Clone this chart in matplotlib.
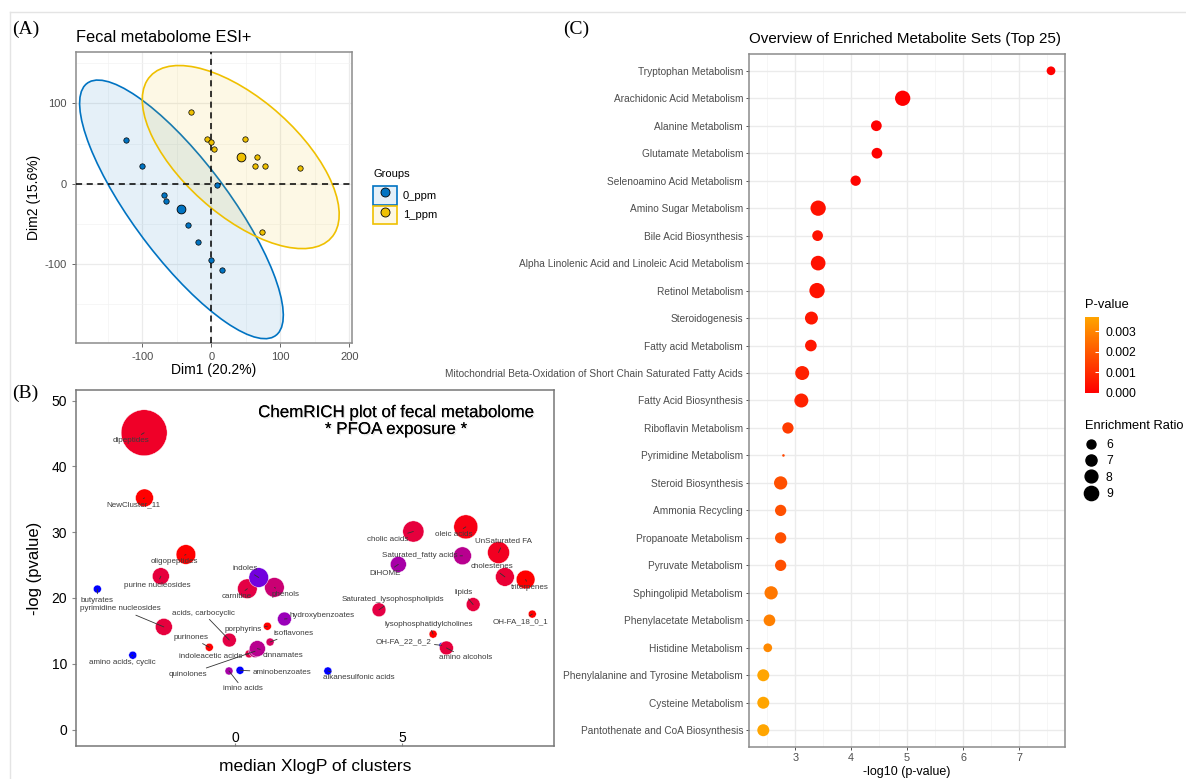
import numpy as np
import matplotlib
matplotlib.use("Agg")
import matplotlib.pyplot as plt
import matplotlib.patheffects as pe
from matplotlib.patches import Ellipse, Patch
from matplotlib.lines import Line2D
from matplotlib.colors import LinearSegmentedColormap, Normalize, to_rgba
from matplotlib.cm import ScalarMappable

plt.rcParams["font.family"] = ["Liberation Sans", "DejaVu Sans"]
plt.rcParams["axes.unicode_minus"] = False

# ---------------- data: (A) PCA scores ----------------
groups = ["0_ppm", "1_ppm"]
dim1_0ppm = [-124, -101, -68, -66, -33, -19, -1, 15.5, 8]
dim2_0ppm = [54, 22, -14, -21, -51, -72, -95, -107, -2]
dim1_1ppm = [-29, -6, -0.5, 4, 49, 66, 64, 78, 129, 73]
dim2_1ppm = [89, 56, 52, 43, 56, 33, 22, 22, 20, -60]

# ---------------- data: (B) ChemRICH clusters ----------------
cluster_names = [
    "dipeptides", "NewCluster_11", "oligopeptides", "purine nucleosides", "butyrates",
    "pyrimidine nucleosides", "amino acids, cyclic", "purinones", "acids, carbocyclic",
    "carnitine", "phenols", "indoles", "porphyrins", "hydroxybenzoates", "isoflavones",
    "indoleacetic acids", "quinolones", "cinnamates", "imino acids", "aminobenzoates",
    "alkanesulfonic acids", "cholic acids", "oleic acids", "UnSaturated FA",
    "Saturated_fatty acids", "DiHOME", "cholestenes", "triterpenes", "lipids",
    "Saturated_lysophospholipids", "OH-FA_18_0_1", "lysophosphatidylcholines",
    "OH-FA_22_6_2", "amino alcohols",
]
cluster_xlogp = [-2.72, -2.71, -1.47, -2.22, -4.12, -2.13, -3.06, -0.77, -0.17,
                 0.37, 1.18, 0.71, 0.97, 1.48, 1.05, 0.42, 0.60, 0.67, -0.18, 0.15,
                 2.78, 5.34, 6.91, 7.89, 6.81, 4.89, 8.08, 8.70, 7.13, 4.31, 8.90,
                 5.93, 6.19, 6.33]
cluster_neglogp = [45.1, 35.2, 26.6, 23.3, 21.35, 15.6, 11.3, 12.5, 13.6,
                   21.4, 21.6, 23.1, 15.7, 16.8, 13.3, 11.5, 11.9, 12.3, 8.9, 9.0,
                   8.9, 30.1, 30.8, 26.9, 26.4, 25.1, 23.2, 22.8, 19.0, 18.2, 17.55,
                   14.5, 12.8, 12.4]
cluster_size = [66, 10, 12, 9, 2, 9, 2, 2, 6,
                12, 12, 12, 2, 6, 2, 2, 5, 8, 2, 2,
                2, 14, 18, 15, 10, 8, 11, 11, 6, 6, 2,
                2, 1, 6]
increased_ratio = [0.88, 1.0, 1.0, 0.82, 0.0, 0.82, 0.0, 1.0, 0.8,
                   0.8, 0.62, 0.22, 1.0, 0.36, 0.7, 0.8, 0.55, 0.5, 0.42, 0.0,
                   0.0, 0.82, 0.94, 0.9, 0.5, 0.42, 0.84, 1.0, 0.82, 0.8, 1.0,
                   1.0, 0.0, 0.82]
# label offsets from bubble centre (pixels, y downwards) - layout only
label_offsets = [(-13, 8), (-11, 7), (-12, 7), (-4, 9), (0, 11), (-43, -18), (-10, 7),
                 (-18, -10), (-26, -27), (-11, 8), (11, 7), (-14, -9), (-24, 3), (38, -3),
                 (23, -9), (-38, 3), (-67, 23), (26, 7), (14, 18), (42, 2), (31, 7),
                 (-26, 8), (-12, 8), (5, -11), (-43, 0), (-13, 9), (-13, -10), (4, 8),
                 (-10, -12), (14, -10), (-12, 8), (-4, -10), (-38, -4), (19, 10)]

# ---------------- data: (C) enrichment overview ----------------
pathways = [
    "Tryptophan Metabolism", "Arachidonic Acid Metabolism", "Alanine Metabolism",
    "Glutamate Metabolism", "Selenoamino Acid Metabolism", "Amino Sugar Metabolism",
    "Bile Acid Biosynthesis", "Alpha Linolenic Acid and Linoleic Acid Metabolism",
    "Retinol Metabolism", "Steroidogenesis", "Fatty acid Metabolism",
    "Mitochondrial Beta-Oxidation of Short Chain Saturated Fatty Acids",
    "Fatty Acid Biosynthesis", "Riboflavin Metabolism", "Pyrimidine Metabolism",
    "Steroid Biosynthesis", "Ammonia Recycling", "Propanoate Metabolism",
    "Pyruvate Metabolism", "Sphingolipid Metabolism", "Phenylacetate Metabolism",
    "Histidine Metabolism", "Phenylalanine and Tyrosine Metabolism",
    "Cysteine Metabolism", "Pantothenate and CoA Biosynthesis",
]
neg_log10_p = [7.57, 4.92, 4.45, 4.46, 4.08, 3.41, 3.40, 3.41, 3.39, 3.29, 3.28, 3.125,
               3.11, 2.87, 2.79, 2.74, 2.74, 2.74, 2.74, 2.57, 2.54, 2.51, 2.43, 2.43, 2.43]
enrichment_ratio = [5.9, 9.8, 6.8, 6.8, 6.6, 9.8, 6.8, 9.3, 9.8, 8.1, 7.3, 8.8,
                    8.8, 7.1, 4.7, 8.3, 7.1, 7.1, 7.1, 8.3, 7.3, 5.9, 7.5, 7.5, 7.5]
ratio_breaks = [6, 7, 8, 9]
pvalue_breaks = [0.000, 0.001, 0.002, 0.003]

W, H = 1186, 779
fig = plt.figure(figsize=(W / 100, H / 100), dpi=100)


def box(x0, y0, x1, y1):
    return [x0 / W, 1 - y1 / H, (x1 - x0) / W, (y1 - y0) / H]


def conf_ellipse(x, y, level=0.95):
    pts = np.column_stack([x, y])
    d = len(pts) - 1
    fq = d / 2 * ((1 - level) ** (-2 / d) - 1)  # F quantile, 2 numerator df
    radius = np.sqrt(2 * fq)
    vals, vecs = np.linalg.eigh(np.cov(pts, rowvar=False))
    angle = np.degrees(np.arctan2(vecs[1, 1], vecs[0, 1]))
    return pts.mean(axis=0), 2 * radius * np.sqrt(vals[1]), 2 * radius * np.sqrt(vals[0]), angle


# frame lines of the original screenshot
fig.add_artist(Line2D([10 / W, 1], [1 - 12 / H] * 2, color="#E4E4E4", lw=1))
fig.add_artist(Line2D([10 / W] * 2, [0, 1 - 12 / H], color="#E4E4E4", lw=1))

serif = ["Liberation Serif", "DejaVu Serif"]
fig.text(12 / W, 1 - 29 / H, "(A)", family=serif, fontsize=14, va="center")
fig.text(12 / W, 1 - 393 / H, "(B)", family=serif, fontsize=14, va="center")
fig.text(563 / W, 1 - 29 / H, "(C)", family=serif, fontsize=14, va="center")

# ================= (A) =================
ax = fig.add_axes(box(76, 52, 352, 343))
colors = ["#0073C2", "#EFC000"]
series = [(dim1_0ppm, dim2_0ppm), (dim1_1ppm, dim2_1ppm)]
for (gx, gy), c in zip(series, colors):
    center, w, h, ang = conf_ellipse(gx, gy)
    ax.add_patch(Ellipse(center, w, h, angle=ang, facecolor=to_rgba(c, 0.1),
                         edgecolor=c, lw=1.2, zorder=2))
for (gx, gy), c in zip(series, colors):
    ax.scatter(gx, gy, s=15, color=c, edgecolor="black", lw=0.5, zorder=4)
    ax.scatter([np.mean(gx)], [np.mean(gy)], s=40, color=c, edgecolor="black", lw=0.6, zorder=4)
ax.axhline(0, color="black", ls="--", lw=1.1, dashes=(4, 3), zorder=3)
ax.axvline(0, color="black", ls="--", lw=1.1, dashes=(4, 3), zorder=3)
ax.set_xlim(-196, 204)
ax.set_ylim(-198, 164)
ax.set_xticks([-100, 0, 100, 200])
ax.set_yticks([-100, 0, 100])
ax.set_xticks([-150, -50, 50, 150], minor=True)
ax.set_yticks([-150, -50, 50, 150], minor=True)
ax.grid(True, which="major", color="#EBEBEB", lw=0.9, zorder=0)
ax.grid(True, which="minor", color="#F3F3F3", lw=0.5, zorder=0)
ax.set_axisbelow(True)
ax.tick_params(which="major", labelsize=8, colors="#4D4D4D", length=3, width=0.6)
ax.tick_params(which="minor", length=0)
for s in ax.spines.values():
    s.set_color("#8C8C8C")
    s.set_linewidth(1.1)
ax.set_xlabel("Dim1 (20.2%)", fontsize=10, labelpad=1)
ax.set_ylabel("Dim2 (15.6%)", fontsize=10, labelpad=3)
ax.set_title("Fecal metabolome ESI+", loc="left", fontsize=11.8, pad=7)

fig.text(373 / W, 1 - 174 / H, "Groups", fontsize=8, va="center")
handles = [(Patch(facecolor=to_rgba(c, 0.1), edgecolor=c, lw=1.2),
            Line2D([], [], marker="o", ls="", markersize=6.5, markerfacecolor=c,
                   markeredgecolor="black", markeredgewidth=0.6)) for c in colors]
fig.legend(handles, groups, loc="upper left",
           bbox_to_anchor=(373 / W, 1 - 186 / H), frameon=False, fontsize=8,
           handlelength=2.2, handleheight=2.2, labelspacing=0.1,
           handletextpad=0.5, borderpad=0, borderaxespad=0)

# ================= (B) =================
bx = fig.add_axes(box(76, 390, 554, 746))
cmap_b = LinearSegmentedColormap.from_list(
    "chemrich", ["#0000FF", "#8200DA", "#B8008F", "#DD0055", "#FF0000"])
bx.scatter(cluster_xlogp, cluster_neglogp, s=np.array(cluster_size) * 16.6,
           c=increased_ratio, cmap=cmap_b, vmin=0, vmax=1, edgecolor="white",
           lw=0.3, zorder=2)
for name, x, y, (dx, dy) in zip(cluster_names, cluster_xlogp, cluster_neglogp, label_offsets):
    bx.annotate(name, (x, y), xytext=(dx * 0.72, -dy * 0.72), textcoords="offset points",
                ha="center", va="center", fontsize=5.8, color="#3C3C3C", zorder=5,
                arrowprops=dict(arrowstyle="-", color="#333333", lw=0.6,
                                shrinkA=0, shrinkB=0))
bx.set_xlim(-4.76, 9.55)
bx.set_ylim(-2.5, 51.6)
bx.set_xticks([0, 5])
bx.set_yticks([0, 10, 20, 30, 40, 50])
bx.tick_params(axis="x", direction="in", pad=-11, length=2, labelsize=10, color="#888888")
bx.tick_params(axis="y", length=3, labelsize=10, color="#888888")
for s in bx.spines.values():
    s.set_color("#777777")
    s.set_linewidth(1.1)
bx.set_xlabel("median XlogP of clusters", fontsize=12.5, labelpad=9)
bx.set_ylabel("-log (pvalue)", fontsize=12, labelpad=7)
fig.text(396 / W, 1 - 421 / H, "ChemRICH plot of fecal metabolome\n* PFOA exposure *",
         ha="center", va="center", fontsize=12.2, linespacing=1.15,
         path_effects=[pe.withSimplePatchShadow(offset=(1, -1), shadow_rgbFace="#B0B0B0",
                                                alpha=0.3), pe.Normal()])

# ================= (C) =================
cx = fig.add_axes(box(749.3, 54.3, 1065, 746.7))
pvals = 10 ** -np.array(neg_log10_p)
pnorm = Normalize(0, pvals.max())
cmap_c = LinearSegmentedColormap.from_list("pval", ["#FF0000", "#FF5200", "#FFA500"])
rmin, rmax = min(enrichment_ratio), max(enrichment_ratio)


def ratio_to_s(v):
    d_mm = 1 + 5 * np.sqrt((np.asarray(v, float) - rmin) / (rmax - rmin))
    return (d_mm * 2.55 * 0.72) ** 2


ypos = np.arange(len(pathways))
cx.scatter(neg_log10_p, ypos, s=ratio_to_s(enrichment_ratio), c=pvals, cmap=cmap_c,
           norm=pnorm, lw=0, zorder=3)
cx.set_xlim(2.18, 7.82)
cx.set_ylim(len(pathways) - 0.4, -0.6)
cx.set_yticks(ypos)
cx.set_yticklabels(pathways)
cx.set_xticks([3, 4, 5, 6, 7])
cx.set_xticks([2.5, 3.5, 4.5, 5.5, 6.5, 7.5], minor=True)
cx.grid(True, which="major", color="#EBEBEB", lw=1.0, zorder=0)
cx.grid(True, which="minor", axis="x", color="#F3F3F3", lw=0.5, zorder=0)
cx.set_axisbelow(True)
cx.tick_params(which="major", labelsize=7.3, labelcolor="#4D4D4D", color="#333333",
               length=2.5, width=0.6, pad=2)
cx.tick_params(axis="x", labelsize=7.8)
cx.tick_params(which="minor", length=0)
for s in cx.spines.values():
    s.set_color("#8C8C8C")
    s.set_linewidth(1.1)
cx.set_xlabel("-log10 (p-value)", fontsize=9, labelpad=2)
cx.set_title("Overview of Enriched Metabolite Sets (Top 25)", loc="left", fontsize=10.9, pad=8)

cax = fig.add_axes(box(1085, 316.7, 1099, 392.7))
cb = fig.colorbar(ScalarMappable(norm=pnorm, cmap=cmap_c), cax=cax, ticks=pvalue_breaks)
cb.outline.set_visible(False)
cb.ax.set_yticklabels([f"{v:.3f}" for v in pvalue_breaks])
cb.ax.tick_params(labelsize=8.8, length=3, color="white", direction="in", pad=5)
fig.text(1085 / W, 1 - 305 / H, "P-value", fontsize=9.3, va="center")

fig.text(1085 / W, 1 - 426 / H, "Enrichment Ratio", fontsize=9.3, va="center")
ratio_handles = [Line2D([], [], marker="o", ls="", color="black",
                        markersize=np.sqrt(ratio_to_s(v))) for v in ratio_breaks]
fig.legend(ratio_handles, [str(v) for v in ratio_breaks],
           loc="upper left", bbox_to_anchor=(1084 / W, 1 - 439 / H), frameon=False,
           fontsize=8.8, handlelength=1.2, labelspacing=0.35,
           handletextpad=0.6, borderpad=0, borderaxespad=0)

fig.savefig("out.png", dpi=100)
